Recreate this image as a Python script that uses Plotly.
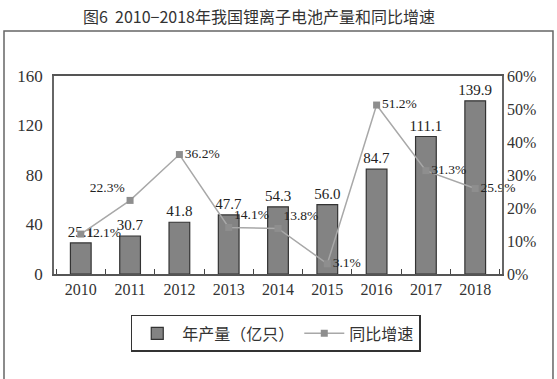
import plotly.graph_objects as go

years = ["2010", "2011", "2012", "2013", "2014", "2015", "2016", "2017", "2018"]
output = [25.1, 30.7, 41.8, 47.7, 54.3, 56.0, 84.7, 111.1, 139.9]
growth = [12.1, 22.3, 36.2, 14.1, 13.8, 3.1, 51.2, 31.3, 25.9]
growth_pos = ["middle right", "top left", "middle right", "top right", "top right",
              "middle right", "middle right", "middle right", "middle right"]

serif = "Liberation Serif, Times New Roman, serif"
cjk = "Noto Sans CJK SC"

fig = go.Figure()
fig.add_trace(go.Bar(
    x=years, y=output, name="年产量（亿只）",
    marker=dict(color="#838383", line=dict(color="#333333", width=1.2)),
    width=0.42,
    text=output, texttemplate="%{y:.1f}", textposition="outside",
    constraintext="none",
    textfont=dict(family=serif, size=15, color="#222222"),
    cliponaxis=False,
))
fig.add_trace(go.Scatter(
    x=years, y=[g / 100 for g in growth], name="同比增速", yaxis="y2",
    mode="lines+markers+text",
    line=dict(color="#a8a8a8", width=1.5),
    marker=dict(symbol="square", size=7, color="#8e8e8e"),
    text=[f"{g}%" for g in growth], textposition=growth_pos,
    textfont=dict(family=serif, size=13.5, color="#222222"),
    cliponaxis=False,
))

fig.update_layout(
    width=557, height=379,
    margin=dict(l=54, r=55, t=76, b=105),
    paper_bgcolor="white", plot_bgcolor="white",
    title=dict(text="图6  2010−2018年我国锂离子电池产量和同比增速",
               x=0.465, xanchor="center", y=0.955, yanchor="middle",
               font=dict(family=cjk, size=16, color="#333333")),
    xaxis=dict(type="category", showline=True, linecolor="#555555", linewidth=2,
               mirror=True, ticks="inside", tickson="boundaries", ticklen=5,
               tickcolor="#444444", showgrid=False,
               tickfont=dict(family=serif, size=16, color="#333333")),
    yaxis=dict(range=[0, 160], dtick=40, showgrid=False, zeroline=False,
               showline=True, linecolor="#666666", linewidth=1.5, mirror=True,
               ticks="", ticklabelstandoff=6,
               tickfont=dict(family=serif, size=17, color="#333333")),
    yaxis2=dict(range=[0, 0.6], dtick=0.1, tickformat=".0%", overlaying="y",
                side="right", showgrid=False, zeroline=False, showline=False,
                ticks="", ticklabelstandoff=4,
                tickfont=dict(family=serif, size=16, color="#333333")),
    legend=dict(orientation="h", x=0.495, xanchor="center", y=-0.3, yanchor="middle",
                bordercolor="#333333", borderwidth=1.5, bgcolor="white",
                font=dict(family=cjk, size=16, color="#333333"),
                itemwidth=40, tracegroupgap=0),
    bargap=0.58,
    shapes=[dict(type="rect", xref="paper", yref="paper",
                 x0=-0.1116, x1=1.1138, y0=-0.6, y1=1.227,
                 line=dict(color="#666666", width=1.5), layer="below")],
)

fig.write_html("out.html",
               config={"displayModeBar": False},
               post_script="document.body.style.margin='0';document.body.style.overflow='hidden';")
